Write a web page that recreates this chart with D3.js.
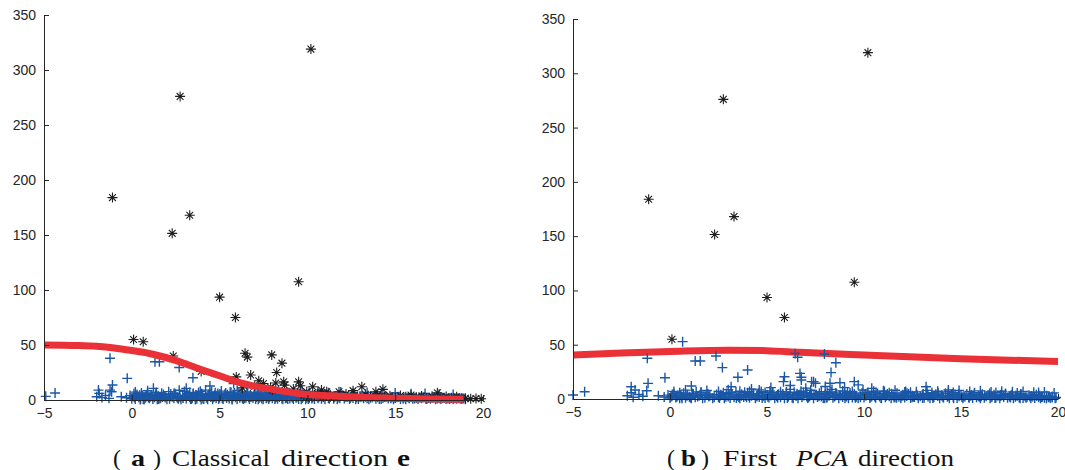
<!DOCTYPE html>
<html>
<head>
<meta charset="utf-8">
<script src="https://cdn.jsdelivr.net/npm/d3@7"></script>
<style>
  html, body { margin: 0; padding: 0; background: #fff; }
  svg { display: block; }
</style>
</head>
<body>
<svg id="chart" width="1065" height="470"></svg>
<script>
// ---- data -------------------------------------------------------------
const xTicks = [-5, 0, 5, 10, 15, 20];
const yTicks = [0, 50, 100, 150, 200, 250, 300, 350];

// Large outlying observations, shared by both projections
const outliers = [
  [-1.1, 184], [2.75, 276], [3.3, 168], [2.3, 151.5], [10.2, 319],
  [9.5, 107.5], [5.0, 93.5], [5.9, 75], [0.1, 55]
];

// (a) extra observations flagged along the classical direction
const flaggedA = [
  [0.65, 53], [2.36, 40], [3.95, 26], [6.45, 42.5], [6.58, 39], [7.97, 41],
  [8.55, 33.5], [8.25, 25], [6.77, 22.7], [7.23, 17.5], [5.95, 21], [8.65, 16.5],
  [8.2, 15.5], [7.5, 15], [9.5, 16.5], [9.6, 13], [8.7, 13.5], [10.3, 12],
  [11.1, 7.5], [9.96, 7.5], [10.4, 4.5], [11.8, 7.5], [12.6, 8.5], [13.1, 12],
  [14.3, 9.7], [13.9, 7.5], [17.4, 6.6], [7.0, 12.5], [7.9, 11.5], [8.0, 9],
  [9.2, 10], [6.3, 11], [10.8, 9], [12.2, 5.5],
  [9.8, 4.2], [10.1, 2.8], [10.6, 5.6], [10.9, 3.5], [11.3, 4.8], [11.5, 2.6],
  [11.9, 4.1], [12.3, 3.0], [12.7, 4.6], [13.0, 2.4], [13.3, 5.2], [13.6, 3.3],
  [14.0, 4.4], [14.4, 2.7], [14.7, 3.9], [15.0, 2.2], [15.3, 4.0], [15.6, 3.0],
  [15.9, 4.5], [16.2, 2.5], [16.5, 3.6], [16.8, 2.1], [17.1, 3.4], [17.6, 2.6],
  [17.9, 3.1], [18.2, 2.0], [18.5, 2.9], [18.8, 1.8], [19.0, 1.5], [19.3, 1.2],
  [19.6, 1.4], [19.9, 1.1]
];

// (a) remaining observations
const regularA = [
  [-4.9, 3.3], [-4.37, 6.3], [-1.24, 38], [1.32, 34.8], [1.57, 34.8], [2.7, 29.5],
  [3.48, 20.2], [-0.26, 19.7], [-1.1, 13.6], [-1.9, 9], [-1.85, 6], [-1.24, 9],
  [-1.15, 7.5], [1.23, 10.6], [3.1, 10.6], [5.8, 15], [4.45, 12.7], [-2.0, 3],
  [-1.7, 2.2], [-1.5, 4.1], [-1.3, 1.5], [-0.6, 3],
  [-0.3, 2.1], [-0.1, 4.0], [0.0, 1.2], [0.1, 3.3], [0.2, 0.8], [0.3, 5.1],
  [0.4, 2.4], [0.5, 1.0], [0.6, 3.8], [0.7, 0.5], [0.8, 2.9], [0.9, 6.2],
  [1.0, 1.7], [1.1, 4.4], [1.2, 0.9], [1.3, 2.6], [1.5, 3.9], [1.6, 1.3],
  [1.8, 5.0], [1.9, 2.2], [2.0, 0.7], [2.2, 3.5], [2.4, 1.6], [2.5, 4.7],
  [2.6, 2.0], [2.8, 0.6], [2.9, 3.1], [3.0, 7.8], [3.1, 1.4], [3.2, 4.2],
  [3.3, 2.5], [3.4, 0.9], [3.5, 5.6], [3.6, 3.0], [3.7, 1.1], [3.8, 6.8],
  [3.9, 2.7], [4.0, 4.9], [4.1, 0.8], [4.2, 3.6], [4.3, 1.9], [4.4, 5.3],
  [4.5, 2.8], [4.6, 0.6], [4.7, 4.1], [4.8, 1.5], [4.9, 6.0], [5.0, 2.3],
  [5.1, 3.7], [5.2, 0.9], [5.3, 5.2], [5.4, 1.8], [5.5, 3.2], [5.6, 7.1],
  [5.7, 1.2], [5.8, 4.5], [5.9, 2.6], [6.0, 0.7], [6.1, 5.8], [6.2, 3.3],
  [6.3, 1.6], [6.4, 4.0], [6.5, 2.1], [6.6, 6.4], [6.7, 0.8], [6.8, 3.5],
  [6.9, 1.9], [7.0, 5.0], [7.1, 2.7], [7.2, 0.6], [7.3, 4.3], [7.4, 1.4],
  [7.5, 3.0], [7.6, 6.1], [7.7, 2.2], [7.8, 0.9], [7.9, 4.6], [8.0, 1.7],
  [8.1, 3.4], [8.2, 5.5], [8.3, 1.1], [8.4, 2.8], [8.5, 4.1], [8.6, 0.7],
  [8.7, 3.6], [8.8, 2.0], [8.9, 5.3], [9.0, 1.3], [9.1, 3.1], [9.2, 0.8],
  [9.3, 4.4], [9.4, 2.4], [9.5, 1.0], [9.6, 3.8], [9.7, 1.8], [9.8, 5.1],
  [9.9, 0.6], [10.0, 2.9], [10.1, 1.5], [10.2, 4.2], [10.3, 2.2], [10.4, 0.9],
  [10.5, 3.3], [10.6, 1.7], [10.7, 4.8], [10.8, 1.2], [10.9, 2.6], [11.0, 0.7],
  [11.1, 3.9], [11.2, 1.9], [11.3, 2.8], [11.5, 1.1], [11.6, 3.5], [11.7, 0.6],
  [11.8, 2.3], [12.0, 4.0], [12.1, 1.4], [12.2, 2.7], [12.4, 0.8], [12.5, 3.2],
  [12.6, 1.8], [12.8, 2.5], [12.9, 0.9], [13.0, 3.7], [13.2, 1.6], [13.3, 2.9],
  [13.5, 0.7], [13.6, 2.1], [13.8, 3.4], [13.9, 1.2], [14.0, 2.6], [14.2, 0.8],
  [14.3, 1.9], [14.5, 3.1], [14.6, 1.3], [14.8, 2.4], [14.9, 0.6], [15.0, 1.8],
  [15.2, 2.9], [15.3, 1.0], [15.5, 2.2], [15.6, 0.7], [15.8, 1.6], [15.9, 2.7],
  [16.0, 1.1], [16.2, 2.0], [16.3, 0.8], [16.5, 1.5], [16.6, 2.5], [16.8, 0.9],
  [16.9, 1.9], [17.0, 1.2], [17.2, 2.3], [17.3, 0.7], [17.5, 1.6], [17.6, 1.0],
  [17.8, 2.1], [17.9, 0.8], [18.0, 1.4], [18.2, 1.9], [18.3, 0.6], [18.5, 1.2],
  [18.6, 1.7], [18.8, 0.9], [18.9, 1.3], [19.0, 0.7],
  [0.15, 2.6], [0.45, 4.3], [0.75, 1.9], [1.05, 3.0], [1.45, 0.6], [1.75, 2.8],
  [2.15, 1.1], [2.45, 6.0], [2.75, 2.4], [3.05, 3.9], [3.35, 1.0], [3.65, 4.6],
  [3.95, 0.5], [4.25, 2.2], [4.55, 7.4], [4.85, 3.3], [5.15, 1.6], [5.45, 4.8],
  [5.75, 2.9], [6.05, 3.9], [6.35, 0.9], [6.65, 2.6], [6.95, 4.2], [7.25, 1.8],
  [7.55, 5.3], [7.85, 2.5], [8.15, 0.8], [8.45, 3.9], [8.75, 1.6], [9.05, 4.7],
  [9.35, 2.1], [9.65, 0.7], [9.95, 3.4], [10.25, 1.3],
  [0.25, 3.9], [0.65, 0.9], [0.95, 2.3], [1.35, 5.2], [1.65, 2.1], [2.3, 3.0],
  [2.65, 1.2], [3.15, 5.9], [3.45, 2.0], [3.75, 3.4], [4.05, 1.4], [4.35, 4.2],
  [4.65, 2.5], [4.95, 0.8], [5.25, 3.1], [5.55, 1.3], [5.85, 6.3], [6.15, 2.0],
  [6.45, 3.6], [6.75, 5.0], [7.05, 0.9], [7.35, 3.0], [7.65, 1.5], [7.95, 6.7],
  [8.25, 2.9], [8.55, 1.4], [8.85, 4.0], [9.15, 2.0], [9.45, 5.9], [9.75, 3.0],
  [10.05, 0.8], [10.35, 3.6], [10.65, 2.4], [10.95, 4.3], [11.25, 1.2], [11.55, 2.9],
  [11.85, 1.6], [12.15, 3.4], [12.45, 2.0], [12.75, 0.7], [13.1, 3.0], [13.4, 1.6],
  [13.7, 2.6], [14.1, 1.0], [14.4, 2.8], [14.75, 1.5], [15.1, 2.5], [15.45, 1.2],
  [15.75, 2.3], [16.1, 1.4], [16.4, 2.2], [16.75, 1.0], [17.1, 2.0], [17.4, 1.3],
  [17.7, 1.8], [18.1, 0.9], [18.4, 1.6], [18.7, 1.1],
  [0.12, 5.6], [0.48, 0.5], [0.82, 4.6], [1.18, 2.9], [1.52, 0.8], [1.88, 3.4],
  [2.22, 5.5], [2.58, 2.8], [2.92, 1.8], [3.28, 3.6], [3.62, 0.5], [3.98, 5.6],
  [4.32, 0.6], [4.68, 2.9], [5.02, 5.5], [5.38, 2.9], [5.72, 0.5], [6.08, 4.6],
  [6.42, 1.5], [6.78, 2.7], [7.12, 4.0], [7.48, 0.7], [7.82, 3.8], [8.18, 2.0],
  [8.52, 6.0], [8.88, 1.0], [9.22, 3.3], [9.58, 4.8], [9.92, 1.9]
];

// (a) observations at the upper edge of the dense band
const upperA = [
  [0.2, 7.2], [0.9, 8.4], [1.4, 6.9], [2.1, 7.6], [2.7, 8.8], [3.3, 6.8],
  [3.9, 7.9], [4.2, 9.0], [4.75, 6.7], [5.1, 8.1], [5.65, 7.0], [6.0, 8.6],
  [6.55, 7.4], [7.0, 6.9], [7.4, 8.3], [7.9, 7.1], [8.35, 8.8], [8.8, 6.8],
  [9.25, 7.7], [9.7, 8.5], [10.1, 6.9], [10.6, 7.6], [11.2, 6.5], [11.9, 7.2],
  [12.6, 6.2], [13.4, 6.8], [14.2, 5.9], [15.0, 6.3], [15.9, 5.6], [16.7, 5.9],
  [17.5, 5.2], [18.3, 5.0],
  [0.55, 6.3], [1.7, 6.1], [2.4, 5.8], [3.5, 6.0], [4.45, 5.9], [5.35, 6.4],
  [6.25, 5.6], [7.2, 6.2], [8.05, 5.8], [8.95, 6.5], [9.55, 5.7]
];

// (b) remaining observations
const regularB = [
  [-5.0, 3.7], [-4.4, 6.7], [-1.17, 37.5], [0.65, 52.8], [1.3, 35], [1.56, 35],
  [2.37, 39.6], [2.7, 28.9], [4.0, 26.7], [3.5, 20], [-0.26, 19.6], [-1.13, 14.4],
  [-2.0, 11.3], [-1.8, 8.3], [-2.0, 5.8], [-1.2, 7.6], [1.1, 12], [3.15, 11.3],
  [4.2, 9.2], [6.45, 42], [6.58, 38.4], [5.9, 20.5], [5.85, 16], [6.7, 23.6],
  [6.77, 20], [7.3, 16], [7.5, 14.5], [7.96, 41.4], [8.55, 33.4], [8.3, 24.3],
  [8.76, 15], [8.25, 14.5], [9.5, 16], [9.7, 13], [10.4, 9.8], [13.2, 11.3],
  [14.35, 8.3], [6.77, 17.5], [7.4, 16], [5.2, 10.5], [6.2, 12.5], [7.0, 10],
  [8.0, 11.5], [9.0, 10.5], [11.0, 7.5], [12.1, 6.5],
  [-2.2, 3.0], [-1.9, 1.6], [-1.6, 4.2], [-1.4, 2.5], [-0.6, 3.0],
  [-0.3, 1.8], [-0.1, 3.6], [0.0, 0.9], [0.1, 2.7], [0.2, 4.8], [0.3, 1.4],
  [0.4, 3.2], [0.5, 0.6], [0.6, 2.3], [0.7, 5.4], [0.8, 1.1], [0.9, 3.9],
  [1.0, 2.0], [1.1, 0.7], [1.2, 4.5], [1.3, 1.6], [1.5, 3.0], [1.6, 6.3],
  [1.8, 1.2], [1.9, 3.7], [2.0, 2.2], [2.2, 0.8], [2.4, 4.1], [2.5, 1.9],
  [2.6, 3.3], [2.8, 0.6], [2.9, 5.0], [3.0, 2.4], [3.1, 1.0], [3.2, 3.8],
  [3.3, 1.5], [3.4, 6.6], [3.5, 2.7], [3.6, 0.8], [3.7, 4.3], [3.8, 1.9],
  [3.9, 3.1], [4.0, 5.7], [4.1, 1.1], [4.2, 2.9], [4.3, 4.6], [4.4, 0.7],
  [4.5, 3.4], [4.6, 1.8], [4.7, 6.9], [4.8, 2.5], [4.9, 0.9], [5.0, 4.0],
  [5.1, 1.4], [5.2, 3.2], [5.3, 5.5], [5.4, 0.6], [5.5, 2.6], [5.6, 4.4],
  [5.7, 1.7], [5.8, 3.6], [5.9, 0.8], [6.0, 5.1], [6.1, 2.3], [6.2, 3.9],
  [6.3, 1.2], [6.4, 6.2], [6.5, 2.8], [6.6, 0.7], [6.7, 4.2], [6.8, 1.6],
  [6.9, 3.3], [7.0, 5.9], [7.1, 1.0], [7.2, 2.7], [7.3, 4.8], [7.4, 0.6],
  [7.5, 3.5], [7.6, 1.9], [7.7, 5.3], [7.8, 2.4], [7.9, 0.9], [8.0, 4.1],
  [8.1, 1.5], [8.2, 3.0], [8.3, 6.5], [8.4, 1.1], [8.5, 2.7], [8.6, 4.4],
  [8.7, 0.7], [8.8, 3.2], [8.9, 1.8], [9.0, 5.0], [9.1, 2.3], [9.2, 0.8],
  [9.3, 3.7], [9.4, 1.4], [9.5, 4.6], [9.6, 2.1], [9.7, 0.6], [9.8, 3.4],
  [9.9, 5.6], [10.0, 1.3], [10.1, 2.9], [10.2, 4.3], [10.3, 0.9], [10.4, 2.5],
  [10.5, 3.8], [10.6, 1.2], [10.7, 5.1], [10.8, 2.2], [10.9, 0.7], [11.0, 3.6],
  [11.1, 1.7], [11.2, 4.5], [11.3, 2.6], [11.4, 0.8], [11.5, 3.3], [11.6, 1.5],
  [11.7, 5.4], [11.8, 2.0], [11.9, 0.6], [12.0, 3.9], [12.1, 1.3], [12.2, 2.8],
  [12.3, 4.7], [12.4, 0.9], [12.5, 3.1], [12.6, 1.8], [12.7, 4.2], [12.8, 0.7],
  [12.9, 2.5], [13.0, 3.7], [13.1, 1.1], [13.2, 5.0], [13.3, 2.2], [13.4, 0.6],
  [13.5, 3.5], [13.6, 1.6], [13.7, 4.4], [13.8, 2.7], [13.9, 0.8], [14.0, 3.2],
  [14.1, 1.4], [14.2, 5.2], [14.3, 2.0], [14.4, 0.7], [14.5, 3.8], [14.6, 1.9],
  [14.7, 4.1], [14.8, 1.0], [14.9, 2.6], [15.0, 3.4], [15.1, 0.6], [15.2, 2.3],
  [15.3, 4.6], [15.4, 1.5], [15.5, 3.0], [15.6, 0.9], [15.7, 3.9], [15.8, 1.7],
  [15.9, 2.8], [16.0, 0.7], [16.1, 4.3], [16.2, 1.2], [16.3, 2.5], [16.4, 3.6],
  [16.5, 0.8], [16.6, 2.1], [16.7, 4.0], [16.8, 1.4], [16.9, 2.9], [17.0, 0.6],
  [17.1, 3.3], [17.2, 1.8], [17.3, 5.0], [17.4, 1.1], [17.5, 2.4], [17.6, 3.7],
  [17.7, 0.7], [17.8, 2.0], [17.9, 3.1], [18.0, 1.3], [18.1, 4.2], [18.2, 0.9],
  [18.3, 2.6], [18.4, 1.6], [18.5, 3.4], [18.6, 0.6], [18.7, 2.2], [18.8, 1.0],
  [18.9, 2.8], [19.0, 1.5], [19.1, 0.7], [19.2, 2.0], [19.3, 1.2], [19.4, 0.8],
  [19.5, 1.6], [19.6, 0.9], [19.7, 1.3], [19.85, 0.6],
  [0.05, 2.0], [0.55, 3.6], [1.05, 1.3], [1.55, 4.0], [2.05, 2.9], [2.55, 0.9],
  [3.05, 4.4], [3.55, 1.6], [4.05, 3.0], [4.55, 5.2], [5.05, 2.0], [5.55, 3.8],
  [6.05, 1.0], [6.55, 4.9], [7.05, 2.4], [7.55, 3.9], [8.05, 1.2], [8.55, 5.6],
  [9.05, 3.0], [9.55, 1.1], [10.05, 4.1], [10.55, 2.4], [11.05, 5.0], [11.55, 1.4],
  [12.05, 3.3], [12.55, 2.0], [13.05, 4.6], [13.55, 1.0], [14.05, 2.9], [14.55, 4.5],
  [15.05, 1.9], [15.55, 3.6], [16.05, 2.6], [16.55, 1.5], [17.05, 3.9], [17.55, 2.5],
  [18.05, 0.8], [18.55, 2.3], [19.05, 3.0], [19.55, 2.4],
  [0.12, 4.2], [0.35, 2.0], [0.62, 0.6], [0.88, 3.0], [1.15, 5.0], [1.42, 2.3],
  [1.68, 0.8], [1.95, 4.6], [2.28, 1.6], [2.62, 3.9], [2.88, 2.1], [3.15, 6.0],
  [3.42, 0.9], [3.68, 3.0], [3.95, 1.5], [4.22, 4.8], [4.48, 2.3], [4.75, 0.9],
  [5.02, 3.3], [5.28, 6.1], [5.55, 1.2], [5.82, 4.5], [6.08, 2.6], [6.35, 0.8],
  [6.62, 3.6], [6.88, 6.0], [7.15, 1.6], [7.42, 4.0], [7.68, 2.6], [7.95, 0.7],
  [8.22, 5.0], [8.48, 2.2], [8.75, 3.6], [9.02, 0.8], [9.28, 5.5], [9.55, 2.8],
  [9.82, 1.5], [10.08, 4.6], [10.35, 2.0], [10.62, 6.0], [10.88, 1.0], [11.15, 3.0],
  [11.42, 4.8], [11.68, 1.2], [11.95, 2.6], [12.22, 5.4], [12.48, 1.7], [12.75, 3.2],
  [13.02, 0.9], [13.28, 4.3], [13.55, 2.6], [13.82, 5.6], [14.08, 1.6], [14.35, 3.0],
  [14.62, 0.8], [14.88, 4.7], [15.15, 2.6], [15.42, 1.2], [15.68, 4.4], [15.95, 2.1],
  [16.22, 3.3], [16.48, 5.1], [16.75, 1.0], [17.02, 2.7], [17.28, 4.1], [17.55, 1.3],
  [17.82, 3.0], [18.08, 4.6], [18.35, 1.1], [18.62, 2.7], [18.88, 4.0], [19.15, 1.8],
  [19.42, 3.0], [19.7, 2.2], [19.9, 1.4]
];

// (b) observations at the upper edge of the dense band
const upperB = [
  [0.2, 7.0], [0.8, 8.2], [1.35, 6.6], [1.9, 7.8], [2.5, 6.9], [3.0, 8.6],
  [3.6, 7.2], [4.1, 6.8], [4.6, 8.4], [5.15, 7.3], [5.7, 6.7], [6.2, 8.9],
  [6.75, 7.1], [7.25, 8.0], [7.8, 6.8], [8.35, 8.7], [8.9, 7.4], [9.4, 6.9],
  [9.95, 8.3], [10.5, 7.2], [11.05, 6.8], [11.6, 8.1], [12.15, 7.0], [12.7, 6.6],
  [13.25, 7.9], [13.8, 7.1], [14.35, 6.7], [14.9, 7.8], [15.45, 6.9], [16.0, 7.5],
  [16.55, 6.5], [17.1, 7.2], [17.65, 6.6], [18.2, 7.0], [18.75, 6.2], [19.3, 6.5],
  [19.8, 5.6],
  [0.5, 5.8], [1.6, 6.0], [2.75, 5.7], [3.85, 6.2], [4.9, 5.9], [6.0, 6.4],
  [7.05, 5.8], [8.1, 6.3], [9.15, 5.9], [10.2, 6.1], [11.3, 5.7], [12.4, 6.2],
  [13.5, 5.8], [14.6, 6.0], [15.7, 5.7], [16.8, 6.1], [17.9, 5.6], [19.0, 5.9]
];

// Fitted curves along each direction
const curveAX = [-5, -3, -2, -1, 0, 1, 1.6, 2.5, 3.2, 3.9, 5, 6.2, 7.5, 8.4, 10, 11.3, 13, 15, 17, 18.9];
const curveAY = [50, 49.5, 48.8, 47.3, 45, 42.3, 40, 36, 32, 28, 22, 15.5, 11, 8.5, 5, 3.8, 2.5, 1.6, 1, 0.6];
const curveBX = [-5, -2.5, 0, 3, 5, 6.7, 10, 15, 20];
const curveBY = [40.5, 42.4, 43.8, 45, 44.5, 43, 40.5, 37, 34.5];

// ---- drawing ----------------------------------------------------------
const svg = d3.select("#chart");
const BLUE = "#1a57a6";
const BLACK = "#1e1e1e";
const RED = "#ea3138";
const AXIS = "#262626";

function panel(cfg) {
  const g = svg.append("g");
  const x = d3.scaleLinear().domain([-5, 20]).range([cfg.left, cfg.right]);
  const y = d3.scaleLinear().domain([0, 350]).range([cfg.bottom, cfg.top]);

  const line = d3.line().x(d => x(d[0])).y(d => y(d[1])).curve(d3.curveMonotoneX);
  const curve = d3.zip(cfg.curveX, cfg.curveY);

  const plus = (sel, data) => sel.selectAll(null).data(data).enter().append("path")
    .attr("transform", d => `translate(${x(d[0])},${y(d[1])})`)
    .attr("d", "M-5,0H5M0,-5V5")
    .attr("fill", "none").attr("stroke", BLUE).attr("stroke-width", 1.4);

  const star = (sel, data) => sel.selectAll(null).data(data).enter().append("path")
    .attr("transform", d => `translate(${x(d[0])},${y(d[1])})`)
    .attr("d", "M-5,0H5M0,-5V5M-3.4,-3.4L3.4,3.4M-3.4,3.4L3.4,-3.4")
    .attr("fill", "none").attr("stroke", BLACK).attr("stroke-width", 1.1);

  const drawCurve = () => g.append("path").datum(curve)
    .attr("d", line).attr("fill", "none").attr("stroke", RED)
    .attr("stroke-width", 7).attr("stroke-linecap", "butt");

  if (cfg.curveOnTop) {
    plus(g.append("g"), cfg.blue);
    star(g.append("g"), cfg.black);
    drawCurve();
  } else {
    drawCurve();
    plus(g.append("g"), cfg.blue);
    star(g.append("g"), cfg.black);
  }

  // axes
  const yAxis = g.append("g").attr("transform", `translate(${cfg.left},0)`)
    .call(d3.axisLeft(y).tickValues(yTicks).tickSizeInner(-5).tickSizeOuter(0).tickPadding(8));
  const xAxis = g.append("g").attr("transform", `translate(0,${cfg.bottom})`)
    .call(d3.axisBottom(x).tickValues(xTicks).tickSizeInner(-5).tickSizeOuter(0).tickPadding(8)
      .tickFormat(d => d < 0 ? "\u2212" + Math.abs(d) : String(d)));
  [yAxis, xAxis].forEach(a => {
    a.select(".domain").attr("stroke", AXIS).attr("stroke-width", 1);
    a.selectAll(".tick line").attr("stroke", AXIS);
    a.selectAll(".tick text").attr("fill", AXIS)
      .style("font-family", "'Liberation Sans', Arial, sans-serif").style("font-size", "14px");
  });
  return g;
}

panel({ left: 44, right: 483, top: 15, bottom: 400,
        blue: regularA.concat(upperA), black: outliers.concat(flaggedA),
        curveX: curveAX, curveY: curveAY, curveOnTop: true });
panel({ left: 573, right: 1058, top: 19, bottom: 399,
        blue: regularB.concat(upperB), black: outliers,
        curveX: curveBX, curveY: curveBY, curveOnTop: false });

// captions
const cap = svg.append("g").style("font-family", "'Liberation Serif', 'Times New Roman', serif")
  .style("font-size", "24px").attr("fill", "#111");
function word(txt, x0, x1, opts = {}) {
  cap.append("text").attr("x", x0).attr("y", 466).text(txt)
    .attr("textLength", x1 - x0).attr("lengthAdjust", "spacingAndGlyphs")
    .style("font-weight", opts.bold ? "bold" : "normal")
    .style("font-style", opts.italic ? "italic" : "normal");
}
word("(", 113, 121);
word("a", 131, 145, { bold: true });
word(")", 153, 161);
word("Classical", 172, 270);
word("direction", 281, 388);
word("e", 397, 410, { bold: true });

word("(", 667, 675);
word("b", 681, 696, { bold: true });
word(")", 701, 709);
word("First", 723, 777);
word("PCA", 796, 848, { italic: true });
word("direction", 858, 954);
</script>
</body>
</html>
